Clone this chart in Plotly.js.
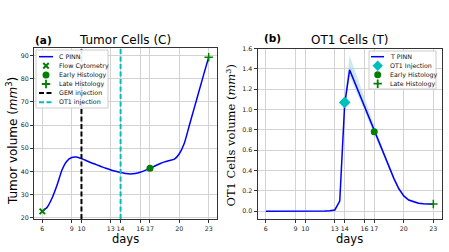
<!DOCTYPE html>
<html><head><meta charset="utf-8">
<script src="https://cdn.plot.ly/plotly-3.0.1.min.js"></script>
<style>html,body{margin:0;padding:0;background:#fff}</style>
</head><body><div id="chart" style="width:449px;height:252px"></div>
<script>
// ---- data ----
const tickDays = [6, 9, 10, 13, 14, 16, 17, 20, 23];
const cDays = [6,6.5,7,7.5,8,8.5,9,9.5,10,10.5,11,11.5,12,12.5,13,13.5,14,14.5,15,15.5,16,16.5,17,17.5,18,18.5,19,19.5,20,20.5,21,21.5,22,22.5,23];
const cPinn = [22.7,24.5,28.5,34,40.5,44.4,46.0,46.2,45.5,44.6,43.7,42.9,42.1,41.3,40.6,40.0,39.5,39.1,38.9,39.1,39.6,40.4,41.3,42.3,43.3,44.1,44.7,45.3,47.6,52,59.5,67,74.5,82,89.3];
const flowDay = [6], flowVal = [22.7];
const earlyDayC = [17], earlyValC = [41.3];
const lateDayC = [23], lateValC = [89.3];
const gemDay = 10, ot1Day = 14;

const tDays = [6,6.5,7,7.5,8,8.5,9,9.5,10,10.5,11,11.5,12,12.5,13,13.5,14,14.5,15,15.5,16,16.5,17,17.5,18,18.5,19,19.5,20,20.5,21,21.5,22,22.5,23];
const tPinn = [0.000,0.000,-0.001,-0.002,-0.002,-0.003,-0.003,-0.003,-0.002,-0.002,-0.001,0.000,0.002,0.005,0.012,0.10,1.05,1.39,1.27,1.15,1.03,0.91,0.79,0.67,0.56,0.44,0.32,0.22,0.15,0.11,0.09,0.078,0.072,0.070,0.069];
const tUpper = [0.004,0.004,0.003,0.002,0.002,0.001,0.001,0.001,0.002,0.002,0.003,0.004,0.006,0.010,0.018,0.12,1.12,1.53,1.40,1.26,1.12,0.98,0.84,0.71,0.59,0.46,0.34,0.235,0.16,0.12,0.10,0.088,0.081,0.078,0.076];
const tLower = [-0.004,-0.004,-0.005,-0.006,-0.006,-0.007,-0.007,-0.007,-0.006,-0.006,-0.005,-0.004,-0.002,0.000,0.006,0.08,1.00,1.33,1.22,1.10,0.99,0.88,0.76,0.64,0.53,0.42,0.30,0.205,0.14,0.10,0.08,0.068,0.063,0.062,0.062];
const ot1InjDay = [14], ot1InjVal = [1.07];
const earlyDayT = [17], earlyValT = [0.78];
const lateDayT = [23], lateValT = [0.07];

const legendC = ["C PINN", "Flow Cytometry", "Early Histology", "Late Histology", "GEM injection", "OT1 injection"];
const legendT = ["T PINN", "OT1 Injection", "Early Histology", "Late Histology"];

// ---- style ----
const BLUE = '#0000ff', GREEN = '#008000', CYAN = '#00bfbf';
const xRange = [5.15, 23.85];
const y1Range = [19.4, 93.3];
const y2Range = [-0.077, 1.6];
const W = 449, H = 252;
const FONT = 'DejaVu Sans, sans-serif';

const traces = [];
// left panel
traces.push({x: cDays, y: cPinn, xaxis:'x', yaxis:'y', mode:'lines', line:{color:BLUE, width:1.5, shape:'spline', smoothing:0.5}, hoverinfo:'skip'});
traces.push({x:[gemDay,gemDay], y:y1Range, xaxis:'x', yaxis:'y', mode:'lines', line:{color:'#000', width:2, dash:'5px,2.5px'}});
traces.push({x:[ot1Day,ot1Day], y:y1Range, xaxis:'x', yaxis:'y', mode:'lines', line:{color:CYAN, width:2, dash:'5px,2.5px'}});
traces.push({x: flowDay, y: flowVal, xaxis:'x', yaxis:'y', mode:'markers', marker:{symbol:'x-thin', size:5.5, color:GREEN, line:{color:GREEN, width:2}}, cliponaxis:false});
traces.push({x: earlyDayC, y: earlyValC, xaxis:'x', yaxis:'y', mode:'markers', marker:{symbol:'circle', size:7, color:GREEN}});
traces.push({x: lateDayC, y: lateValC, xaxis:'x', yaxis:'y', mode:'markers', marker:{symbol:'cross-thin', size:6, color:GREEN, line:{color:GREEN, width:1.5}}, cliponaxis:false});
// right panel
traces.push({x: tDays.concat(tDays.slice().reverse()), y: tUpper.concat(tLower.slice().reverse()), xaxis:'x2', yaxis:'y2', mode:'lines', fill:'toself', fillcolor:'rgba(173,216,230,0.6)', line:{width:0, color:'rgba(0,0,0,0)'}});
traces.push({x: tDays, y: tPinn, xaxis:'x2', yaxis:'y2', mode:'lines', line:{color:BLUE, width:1.5}});
traces.push({x: ot1InjDay, y: ot1InjVal, xaxis:'x2', yaxis:'y2', mode:'markers', marker:{symbol:'diamond', size:9, color:CYAN}});
traces.push({x: earlyDayT, y: earlyValT, xaxis:'x2', yaxis:'y2', mode:'markers', marker:{symbol:'circle', size:7, color:GREEN}});
traces.push({x: lateDayT, y: lateValT, xaxis:'x2', yaxis:'y2', mode:'markers', marker:{symbol:'cross-thin', size:6, color:GREEN, line:{color:GREEN, width:1.5}}, cliponaxis:false});

// ---- legends (pixel overlay axes x3/y3) ----
const LX1 = 39, LX2 = 53, LMX = 46, LTX = 56.5;
const rowsC = [56.7, 65.8, 74.9, 84.0, 93.1, 102.2];
const RX1 = 371, RX2 = 384, RMX = 377.7, RTX = 388.3;
const rowsT = [56.7, 65.7, 74.7, 83.7];
function box(x0, x1, y0, y1) {
  return {x:[x0,x1,x1,x0,x0], y:[y0,y0,y1,y1,y0], xaxis:'x3', yaxis:'y3', mode:'lines', fill:'toself',
    fillcolor:'rgba(255,255,255,0.9)', line:{color:'#cccccc', width:1}};
}
traces.push(box(36, 108, 50, 108));
traces.push(box(369, 436, 51, 89));
traces.push({x:[LX1,LX2], y:[rowsC[0],rowsC[0]], xaxis:'x3', yaxis:'y3', mode:'lines', line:{color:BLUE, width:1.5}});
traces.push({x:[LMX], y:[rowsC[1]], xaxis:'x3', yaxis:'y3', mode:'markers', marker:{symbol:'x-thin', size:5.5, color:GREEN, line:{color:GREEN, width:2}}});
traces.push({x:[LMX], y:[rowsC[2]], xaxis:'x3', yaxis:'y3', mode:'markers', marker:{symbol:'circle', size:7, color:GREEN}});
traces.push({x:[LMX], y:[rowsC[3]], xaxis:'x3', yaxis:'y3', mode:'markers', marker:{symbol:'cross-thin', size:6, color:GREEN, line:{color:GREEN, width:1.8}}});
traces.push({x:[LX1,LX2], y:[rowsC[4],rowsC[4]], xaxis:'x3', yaxis:'y3', mode:'lines', line:{color:'#000', width:2, dash:'5px,2.5px'}});
traces.push({x:[LX1,LX2], y:[rowsC[5],rowsC[5]], xaxis:'x3', yaxis:'y3', mode:'lines', line:{color:CYAN, width:2, dash:'5px,2.5px'}});
traces.push({x:[RX1,RX2], y:[rowsT[0],rowsT[0]], xaxis:'x3', yaxis:'y3', mode:'lines', line:{color:BLUE, width:1.5}});
traces.push({x:[RMX], y:[rowsT[1]], xaxis:'x3', yaxis:'y3', mode:'markers', marker:{symbol:'diamond', size:8, color:CYAN}});
traces.push({x:[RMX], y:[rowsT[2]], xaxis:'x3', yaxis:'y3', mode:'markers', marker:{symbol:'circle', size:7, color:GREEN}});
traces.push({x:[RMX], y:[rowsT[3]], xaxis:'x3', yaxis:'y3', mode:'markers', marker:{symbol:'cross-thin', size:6, color:GREEN, line:{color:GREEN, width:1.8}}});

const annotations = [];
function ann(x, y, text, opts) {
  annotations.push(Object.assign({xref:'x3', yref:'y3', x:x, y:y, text:text, showarrow:false,
    xanchor:'center', yanchor:'middle', font:{family:FONT, size:12, color:'#000'}}, opts||{}));
}
legendC.forEach((t,i)=>ann(LTX, rowsC[i], t, {xanchor:'left', font:{family:FONT, size:6.3, color:'#111'}}));
legendT.forEach((t,i)=>ann(RTX, rowsT[i], t, {xanchor:'left', font:{family:FONT, size:6.3, color:'#111'}}));
ann(43.5, 39.5, '<b>(a)</b>', {font:{family:FONT, size:10.5, color:'#000'}});
ann(125.3, 40, 'Tumor Cells (C)', {font:{family:FONT, size:12, color:'#000'}});
ann(272.5, 38, '<b>(b)</b>', {font:{family:FONT, size:10.5, color:'#000'}});
ann(349.5, 40, 'OT1 Cells (T)', {font:{family:FONT, size:12, color:'#000'}});
ann(125.5, 238.5, 'days', {font:{family:FONT, size:11.5, color:'#000'}});
ann(349.5, 238.5, 'days', {font:{family:FONT, size:11.5, color:'#000'}});
ann(12, 141, 'Tumor volume (<i>mm</i><sup>3</sup>)', {textangle:-90, font:{family:FONT, size:12, color:'#000'}});
ann(231, 135.5, 'OT1 Cells volume (<i>mm</i><sup>3</sup>)', {textangle:-90, font:{family:'DejaVu Serif, serif', size:11.5, color:'#000'}});

function axisCommon() {
  return {showline:true, mirror:true, linecolor:'#333', linewidth:1, ticks:'outside', ticklen:3, tickwidth:1, tickcolor:'#333',
    showgrid:true, gridcolor:'#d3d3d3', gridwidth:1, zeroline:false, tickangle:0, tickfont:{family:FONT, size:6.3, color:'#222'}, fixedrange:true};
}
const layout = {
  width:W, height:H, margin:{l:0, r:0, t:0, b:0}, showlegend:false,
  paper_bgcolor:'#ffffff', plot_bgcolor:'rgba(0,0,0,0)',
  xaxis: Object.assign(axisCommon(), {domain:[34/W, 217/W], range:xRange, tickvals:tickDays, ticktext:tickDays.map(String), anchor:'y'}),
  yaxis: Object.assign(axisCommon(), {domain:[1-219/H, 1-48/H], range:y1Range, tickvals:[20,30,40,50,60,70,80,90], anchor:'x'}),
  xaxis2: Object.assign(axisCommon(), {domain:[257.5/W, 441.7/W], range:xRange, tickvals:tickDays, ticktext:tickDays.map(String), anchor:'y2'}),
  yaxis2: Object.assign(axisCommon(), {domain:[1-219/H, 1-48.5/H], range:y2Range, tickvals:[0,0.2,0.4,0.6,0.8,1.0,1.2,1.4,1.6], tickformat:'.1f', anchor:'x2'}),
  xaxis3: {domain:[0,1], range:[0,W], visible:false, anchor:'y3', fixedrange:true},
  yaxis3: {domain:[0,1], range:[H,0], visible:false, anchor:'x3', fixedrange:true},
  annotations: annotations
};
Plotly.newPlot('chart', traces, layout, {staticPlot:true, displayModeBar:false});
</script></body></html>
